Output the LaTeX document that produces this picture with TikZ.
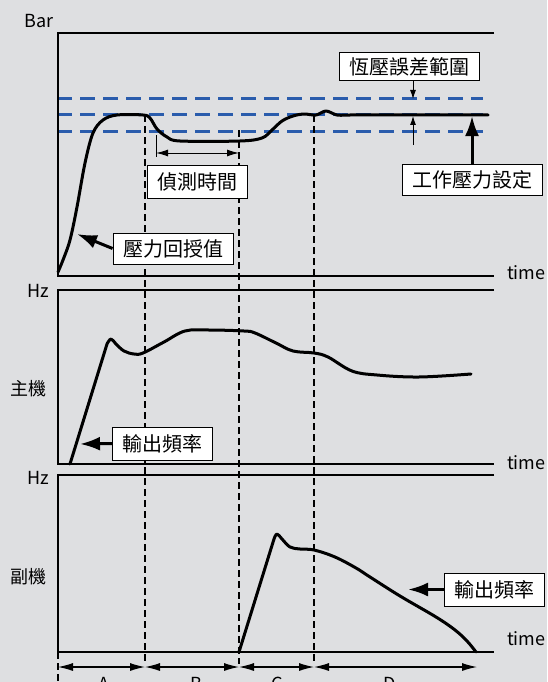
\documentclass[tikz,border=0pt]{standalone}
\usepackage{fontspec}
\setmainfont{Noto Sans CJK TC}
\usetikzlibrary{positioning, arrows.meta, calc}
\definecolor{panelgray}{RGB}{222,223,225}
\definecolor{bandblue}{RGB}{42,92,172}
\tikzset{
	x=1pt, y=-1pt,
	>={Latex[length=12pt, width=7pt]},
	axisframe/.style={line width=2.8pt, line join=miter},
	tracepath/.style={line width=3pt, line join=round, line cap=round},
	phaseline/.style={line width=1.6pt, dash pattern=on 7pt off 4pt},
	tolband/.style={line width=3pt, bandblue, dash pattern=on 15pt off 8pt},
	tagbox/.style={draw, line width=0.9pt, fill=white, minimum height=33pt, inner xsep=10pt, font=\fontsize{20}{20}\selectfont},
	unitlabel/.style={font=\fontsize{18}{18}\selectfont, inner sep=0pt},
	bigtip/.style={-{Latex[length=20pt, width=14pt]}, line width=3pt},
	smalltip/.style={-{Latex[length=9pt, width=6pt]}, line width=0.9pt},
	dimspan/.style={{Latex[length=15pt, width=8pt]}-{Latex[length=15pt, width=8pt]}, line width=1.1pt},
}

\begin{document}
\begin{tikzpicture}
	
	\fill[panelgray] (0,0) rectangle (547,682);
	\useasboundingbox (0,0) rectangle (547,682);
	\clip (0,0) rectangle (547,682);
	
	% tolerance band
	\draw[tolband] (57,99) -- (483,99);
	\draw[tolband] (57,115) -- (483,115);
	\draw[tolband] (57,131) -- (483,131);
	
	% phase boundaries
	\draw[phaseline] (145,115) -- (145,664);
	\draw[phaseline] (239,130) -- (239,664);
	\draw[phaseline] (314,115) -- (314,664);
	\draw[phaseline] (58,652) -- (58,690);
	
	% panels
	\draw[axisframe] (494,33) -- (58,33) -- (58,276) -- (494,276);
	\draw[axisframe] (494,290) -- (58,290) -- (58,464) -- (494,464);
	\draw[axisframe] (494,475) -- (58,475) -- (58,652) -- (494,652);
	
	\node[unitlabel, anchor=base east] (BAR) at (54,28) {Bar};
	\node[unitlabel, anchor=base east] (HZMAIN) at (49,297) {Hz};
	\node[unitlabel, anchor=base east] (HZSUB) at (49,484) {Hz};
	\node[unitlabel, anchor=base west] (TIMEA) at (507,279) {time};
	\node[unitlabel, anchor=base west] (TIMEB) at (507,469) {time};
	\node[unitlabel, anchor=base west] (TIMEC) at (507,645) {time};
	\node[unitlabel] (MAIN) at (28,389) {主機};
	\node[unitlabel] (SUB) at (28,577) {副機};
	
	% pressure feedback
	\draw[tracepath] plot[smooth, tension=0.55] coordinates {(58,272) (63,260) (70,240) (77,207) (85,163) (93,133) (103,120) (117,115) (143,115) (150,118) (157,129) (167,137) (180,141) (240,141) (262,138) (272,130) (282,121) (293,116) (304,114) (316,115) (326,111) (337,115) (350,115)} -- (488,115);
	
	% main unit output
	\draw[tracepath] (70,464) -- (107,344) plot[smooth, tension=0.6] coordinates {(107,344) (111,339) (116,344) (124,351) (134,354) (143,353) (164,342) (185,331) (209,330) (244,331) (255,333) (276,343) (293,351) (314,353) (328,357) (352,371) (377,375) (419,377) (471,374)};
	
	% sub unit output
	\draw[tracepath] (239,652) -- (274,539) plot[smooth, tension=0.6] coordinates {(274,539) (277,534) (282,539) (290,547) (300,549) (314,550) (335,557) (356,568) (370,577) (400,596) (436,617) (455,630) (467,641) (476,652)};
	
	% detection time
	\coordinate (DETL) at (156,153);
	\coordinate (DETR) at (239,153);
	\coordinate (DETMID) at (197.5,153);
	\draw[line width=1pt] (156,135) -- (156,157);
	\draw[<->, line width=1pt] (DETL) -- (DETR);
	\node[tagbox, below=12pt of DETMID] (DETECT) {偵測時間};
	
	% feedback label
	\coordinate (FBTIP) at (77,234);
	\node[tagbox, minimum height=31pt] (FEEDBACK) at (173,248.5) {壓力回授值};
	\draw[bigtip] (FEEDBACK.west) -- (FBTIP);
	
	% tolerance label
	\coordinate (TOLTOP) at (413,99);
	\coordinate (TOLMID) at (413,116);
	\coordinate (TOLLOW) at (413,145);
	\node[tagbox, minimum height=28pt, above=18pt of TOLTOP, xshift=-4pt] (TOLERANCE) {恆壓誤差範圍};
	\draw[smalltip] (TOLERANCE.south -| TOLTOP) -- (TOLTOP);
	\draw[smalltip] (TOLLOW) -- (TOLMID);
	
	% setpoint label
	\coordinate (SETTIP) at (472,116);
	\node[tagbox, minimum height=31pt, below=48pt of SETTIP] (SETPOINT) {工作壓力設定};
	\draw[bigtip] (SETPOINT.north) -- (SETTIP);
	
	% output frequency labels
	\coordinate (OUTTIPA) at (80,444);
	\node[tagbox] (OUTA) at (162.5,443.5) {輸出頻率};
	\draw[bigtip] (OUTA.west) -- (OUTTIPA);
	\coordinate (OUTTIPB) at (408,589.5);
	\node[tagbox] (OUTB) at (494,589.5) {輸出頻率};
	\draw[bigtip] (OUTB.west) -- (OUTTIPB);
	
	% phases
	\coordinate (P0) at (58,667);
	\coordinate (P1) at (145,667);
	\coordinate (P2) at (239,667);
	\coordinate (P3) at (314,667);
	\coordinate (P4) at (477,667);
	\draw[dimspan] (P0) -- (P1);
	\draw[dimspan] (P1) -- (P2);
	\draw[dimspan] (P2) -- (P3);
	\draw[dimspan] (P3) -- (P4);
	\node[unitlabel, anchor=base] (PHA) at (104,690) {A};
	\node[unitlabel, anchor=base] (PHB) at (196,690) {B};
	\node[unitlabel, anchor=base] (PHC) at (277,690) {C};
	\node[unitlabel, anchor=base] (PHD) at (390,690) {D};
	
\end{tikzpicture}
\end{document}
